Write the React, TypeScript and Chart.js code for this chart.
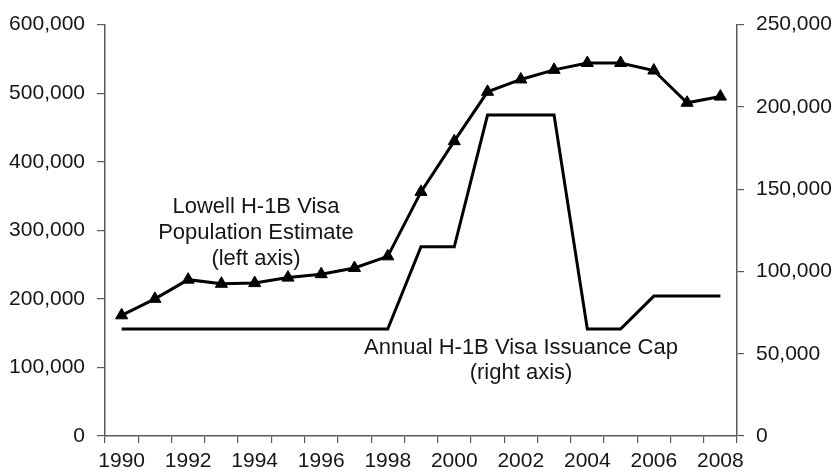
import React, { useEffect, useRef } from "react";
import { Chart, registerables } from "chart.js";

Chart.register(...registerables);

const years: string[] = [
  "1990", "1991", "1992", "1993", "1994", "1995", "1996", "1997", "1998", "1999",
  "2000", "2001", "2002", "2003", "2004", "2005", "2006", "2007", "2008",
];

const lowellEstimate: number[] = [
  176000, 200000, 228000, 222000, 223000, 231000, 236000, 245000, 262000, 356000,
  430000, 502000, 520000, 534000, 544000, 544000, 533000, 486000, 495000,
];

const annualCap: number[] = [
  65000, 65000, 65000, 65000, 65000, 65000, 65000, 65000, 65000, 115000,
  115000, 195000, 195000, 195000, 65000, 65000, 85000, 85000, 85000,
];

const lowellLabel: string[] = ["Lowell H-1B Visa", "Population Estimate", "(left axis)"];
const capLabel: string[] = ["Annual H-1B Visa Issuance Cap", "(right axis)"];

const FONT = "'Liberation Sans', Arial, sans-serif";
const TEXT = "#161616";
const AXIS = "#5a5a5a";

const annotationPlugin = {
  id: "annotations",
  afterDatasetsDraw(chart: any) {
    const ctx = chart.ctx;
    ctx.save();
    ctx.fillStyle = TEXT;
    ctx.font = `22px ${FONT}`;
    ctx.textAlign = "center";
    ctx.textBaseline = "middle";
    const l1y = [207, 233, 259];
    lowellLabel.forEach((t, i) => ctx.fillText(t, 256, l1y[i]));
    ctx.fillText(capLabel[0], 521, 348);
    ctx.fillText(capLabel[1], 521, 373);
    ctx.restore();
  },
};

export default function App() {
  const ref = useRef<HTMLCanvasElement | null>(null);

  useEffect(() => {
    if (!ref.current) return;
    const fmt = (v: any) => Number(v).toLocaleString("en-US");
    const chart = new Chart(ref.current, {
      type: "line",
      data: {
        labels: years,
        datasets: [
          {
            label: "Lowell H-1B Visa Population Estimate",
            data: lowellEstimate,
            yAxisID: "yLeft",
            borderColor: "#000",
            backgroundColor: "#000",
            borderWidth: 3,
            pointStyle: "triangle",
            pointRadius: 7,
            pointBorderWidth: 1,
            tension: 0,
          },
          {
            label: "Annual H-1B Visa Issuance Cap",
            data: annualCap,
            yAxisID: "yRight",
            borderColor: "#000",
            backgroundColor: "#000",
            borderWidth: 3,
            pointRadius: 0,
            tension: 0,
          },
        ],
      },
      options: {
        animation: false,
        responsive: true,
        maintainAspectRatio: false,
        layout: { padding: { top: 20, left: 0, right: 0, bottom: 0 } },
        plugins: { legend: { display: false }, tooltip: { enabled: false } },
        scales: {
          x: {
            offset: true,
            grid: { offset: true, drawOnChartArea: false, drawTicks: true, tickLength: 7, color: AXIS, lineWidth: 1.2 },
            border: { display: true, color: AXIS, width: 1.5 },
            ticks: {
              autoSkip: false,
              maxRotation: 0,
              padding: 6,
              color: TEXT,
              font: { family: FONT, size: 21 },
              callback: (_v: any, i: number) => (i % 2 === 0 ? years[i] : ""),
            },
            afterFit: (s: any) => { s.height = 38; },
          },
          yLeft: {
            position: "left",
            min: 0,
            max: 600000,
            ticks: { stepSize: 100000, padding: 12, color: TEXT, font: { family: FONT, size: 21 }, callback: fmt },
            grid: { drawOnChartArea: false, tickLength: 8, color: AXIS, lineWidth: 1.2 },
            border: { display: true, color: AXIS, width: 1.5 },
            afterFit: (s: any) => { s.width = 105; },
          },
          yRight: {
            position: "right",
            min: 0,
            max: 250000,
            ticks: { stepSize: 50000, padding: 12, color: TEXT, font: { family: FONT, size: 21 }, callback: fmt },
            grid: { drawOnChartArea: false, tickLength: 7, color: AXIS, lineWidth: 1.2 },
            border: { display: true, color: AXIS, width: 1.5 },
            afterFit: (s: any) => { s.width = 103; },
          },
        },
      },
      plugins: [annotationPlugin],
    });
    return () => chart.destroy();
  }, []);

  return (
    <div style={{ position: "fixed", left: 0, top: 0, width: 840, height: 474, background: "#fff" }}>
      <canvas ref={ref} />
    </div>
  );
}
